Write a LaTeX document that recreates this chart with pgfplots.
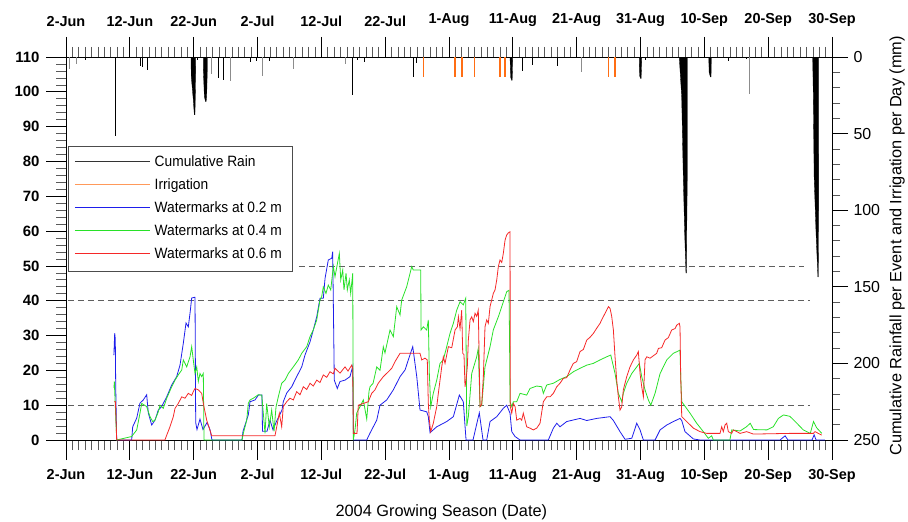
\documentclass[border=0pt]{standalone}
\usepackage{fontspec}
\setmainfont{Liberation Sans}
\newfontfamily\legfont[FakeStretch=0.92]{Liberation Sans}
\usepackage{pgfplots}
\pgfplotsset{compat=1.18}

\definecolor{wmblue}{RGB}{30,30,235}
\definecolor{wmgreen}{RGB}{40,225,40}
\definecolor{wmred}{RGB}{245,40,40}
\definecolor{irrorange}{RGB}{255,110,20}
\definecolor{dashgray}{RGB}{95,95,95}

\pgfplotsset{
  dateaxis/.style={
    scale only axis, width=766bp, height=383bp,
    xmin=0, xmax=120,
    xtick={0,10,...,120},
    xticklabels={2-Jun,12-Jun,22-Jun,2-Jul,12-Jul,22-Jul,1-Aug,11-Aug,21-Aug,31-Aug,10-Sep,20-Sep,30-Sep},
    minor x tick num=9,
    tick align=outside,
    major tick length=20bp, minor tick length=10bp,
    x tick label style={font=\fontsize{14.5}{14.5}\selectfont\bfseries},
    major tick style={black, line width=0.7bp},
    minor tick style={black!65, line width=0.7bp},
    axis line style={black, line width=0.8bp},
  },
  dashref/.style={forget plot, dashgray, line width=0.8bp, dash pattern=on 6bp off 4bp},
}

\begin{document}
\begin{tikzpicture}
% soil water tension, left axis
\begin{axis}[dateaxis,
  axis x line*=bottom, axis y line*=left,
  ymin=0, ymax=110,
  ytick={0,10,...,110}, minor y tick num=4,
  /pgf/number format/assume math mode=true,
  y tick label style={font=\fontsize{15}{15}\selectfont\bfseries, xshift=-3bp},
  x tick label style={yshift=-6bp},
  xlabel={2004 Growing Season (Date)},
  x label style={at={(axis description cs:0.49,0)}, anchor=center, yshift=-72bp, font=\fontsize{16.4}{16.4}\selectfont},
  legend style={at={(0.0026,0.7676)}, anchor=north west, draw=black!70, fill=white,
    font=\legfont\fontsize{15}{15}\selectfont, inner xsep=6bp, inner ysep=5bp,
    nodes={inner xsep=4.25bp, inner ysep=4.5bp, text height=11bp, text depth=3bp}},
  legend cell align=left,
  legend image code/.code={\draw[line width=1.3bp, #1] (0bp,1bp) -- (75bp,1bp);},
]
\addplot[dashref] coordinates {(0.3,10) (116.6,10)};
\addplot[dashref] coordinates {(0.3,40) (116.6,40)};
\addplot[dashref] coordinates {(36.5,50) (115.6,50)};

\addlegendimage{draw=black!80}
\addlegendentry{Cumulative Rain}
\addlegendimage{draw=irrorange!70}
\addlegendentry{Irrigation}
\addlegendimage{draw=wmblue}
\addlegendentry{Watermarks at 0.2 m}
\addlegendimage{draw=wmgreen}
\addlegendentry{Watermarks at 0.4 m}
\addlegendimage{draw=wmred}
\addlegendentry{Watermarks at 0.6 m}

\addplot[forget plot, wmblue, line width=0.8bp] coordinates {
(7.50,24.4) (7.63,30.7) (7.72,29) (7.79,15.2) (7.94,0) (10.29,0) (10.45,3.8) (11.08,6.3)
(11.59,10.6) (12.11,11.5) (12.64,13) (12.89,7.8) (13.43,4.3) (13.94,5.7) (14.46,8.6)
(14.99,9.6) (15.78,12.4) (16.56,15.8) (17.34,18.2) (17.86,21.5) (18.38,27.8) (18.80,33.6)
(19.16,32.5) (19.43,36.4) (19.69,40.8) (20.21,41) (20.32,5) (20.52,3) (20.99,6) (21.46,3)
(22.09,5) (22.56,3) (22.87,0) (27.57,0) (27.73,2.5) (28.56,7.2) (28.83,11) (29.61,11.5)
(30.13,12.9) (30.71,12.9) (30.78,2.5) (31.49,2.5) (31.96,5.7) (32.43,2.9) (33.06,5.7)
(33.84,8.6) (34.04,11) (34.58,13.5) (35.36,15.3) (36.14,18.2) (36.93,21) (37.44,24.4)
(38.23,28.2) (38.74,31.6) (39.28,35.4) (39.79,40.7) (40.31,40.7) (40.58,46.4) (41.09,51.7)
(41.63,52.2) (41.78,54.1) (42.03,17.2) (42.50,14.8) (42.93,16.8) (43.71,17.2) (44.49,18.2)
(44.92,21.2) (45.04,0) (47.11,0) (47.63,2) (48.68,5.7) (49.19,10) (50.24,11.5) (51.28,14.4)
(52.33,18.2) (53.11,20.1) (53.63,23) (54.32,26.8) (54.95,18.2) (55.46,8.6) (56.51,8.1)
(56.76,6.7) (57.03,2.1) (58.08,3.8) (59.64,5.3) (60.68,6.7) (61.62,12.9) (62.24,11)
(62.67,0) (63.76,0) (64.75,7.8) (65.33,0) (65.91,0) (66.43,5.3) (67.48,6.7) (68.51,9.1)
(69.04,10) (69.56,7.7) (69.83,2.4) (70.35,1) (71.13,0) (75.56,0) (76.35,3.4) (76.88,4.8)
(77.39,3.8) (78.44,5.3) (80.53,6.2) (81.58,5.6) (83.14,6.2) (85.23,6.7) (85.75,5.6)
(86.79,2.4) (87.58,0.2) (88.63,0.5) (89.41,4.8) (89.93,2.9) (90.45,0) (92.28,0) (93.07,2.9)
(94.11,4.3) (95.15,5.3) (96.19,6.2) (96.46,5.6) (96.97,2.4) (98.28,0.3) (99.33,0)
(111.86,0) (112.65,1.2) (113.10,0) (116.87,0) (117.20,1.5) (117.50,0) (118.90,0)
};

\addplot[forget plot, wmgreen, line width=0.8bp] coordinates {
(7.52,15) (7.57,16.8) (7.94,0) (10.29,1) (11.08,2.9) (11.59,7.7) (11.86,10.5) (12.64,9.6)
(13.16,6.7) (13.58,5.3) (13.94,5.7) (14.46,8.1) (14.73,10) (15.24,9.1) (15.78,12)
(16.56,15.3) (17.08,17.2) (17.59,18.7) (18.13,20.1) (18.38,23) (18.91,21) (19.43,23.9)
(19.69,26.8) (19.94,23) (20.21,19.1) (20.48,21) (20.73,16.8) (20.99,19.1) (21.26,18.2)
(21.51,19.1) (21.62,0) (27.57,0) (27.78,1.9) (28.31,5.7) (28.56,10.5) (28.83,11.5)
(29.34,12) (30.13,13) (30.66,12.9) (30.91,7.7) (31.18,1.9) (31.44,10.5) (31.85,3.8)
(32.22,8.6) (32.59,2.5) (32.90,9.5) (33.26,12.4) (33.79,16.3) (34.31,17.2) (34.83,19.1)
(35.61,21) (36.39,23) (36.93,24.9) (37.71,26.8) (38.23,29.7) (38.74,31.6) (39.28,34.5)
(39.79,40.2) (40.06,41.2) (40.31,44) (40.73,42.1) (41.09,44.5) (41.47,43.1) (41.88,49.8)
(42.14,46.9) (42.82,53.6) (43.04,46) (43.35,48.8) (43.55,43.1) (43.87,47.9) (44.07,43.1)
(44.38,46) (44.60,42.1) (44.92,47.9) (45.01,0) (45.28,3) (45.54,7.7) (46.06,9.6)
(46.58,11.5) (47.11,6) (47.47,14) (47.63,15.3) (48.11,16.3) (48.68,21) (49.19,20)
(49.71,26.8) (49.97,25) (50.76,31.6) (51.28,29.7) (51.81,38.3) (52.33,35.9) (52.59,40.2)
(53.37,44) (54.16,49.8) (54.41,48.8) (55.57,48.8) (55.62,31.6) (55.98,32.5) (56.51,31.6)
(56.76,34.5) (56.92,19.1) (57.14,9.6) (57.54,13.4) (58.08,17.2) (58.59,22) (59.11,23)
(59.64,26.8) (60.16,30.6) (60.68,33.5) (61.21,37.3) (61.73,39.7) (62.24,38.8) (62.62,40.7)
(62.78,4) (63.03,6.7) (63.56,19.1) (64.34,23.9) (64.59,26.3) (64.86,9.6) (65.12,9.9)
(65.64,21) (66.43,26.8) (66.94,31.6) (67.73,35.4) (68.26,38.3) (69.04,42.6) (69.40,43)
(69.48,30) (69.56,11) (69.83,9.6) (70.08,11) (70.61,11) (71.13,13.4) (72.17,12.9)
(72.69,14.8) (73.74,15.5) (74.52,15.3) (74.78,13.4) (75.31,15.8) (76.35,16.3) (77.39,17.4)
(78.44,18.2) (79.48,19.6) (80.53,20.6) (81.58,21.5) (82.61,22) (83.66,23) (84.71,23.9)
(85.34,24.4) (86.01,19.1) (86.53,13.4) (87.06,11) (87.31,13.4) (87.84,16.3) (88.63,19.1)
(89.41,21) (89.82,22) (90.19,18.2) (90.71,14.4) (91.23,11.5) (91.61,10) (92.28,13.4)
(93.07,19.1) (94.11,23) (95.15,24.9) (96.19,25.8) (96.30,18) (96.46,11) (97.76,7.7)
(98.81,4.8) (99.84,2.4) (100.62,0.5) (101.15,1.2) (101.41,0) (104.0,0) (104.3,2.9)
(105.6,2.6) (106.6,3.8) (107.2,4.8) (107.7,3) (109.8,2.9) (110.8,3.8) (111.6,6.2)
(112.4,7.2) (113.4,6.8) (114.5,4.8) (115.5,2.9) (116.6,1.9) (117.1,5.3) (117.6,3.5)
(118.4,1.9)
};

\addplot[forget plot, wmred, line width=0.8bp] coordinates {
(7.52,11) (7.75,11) (7.94,0) (15.50,0) (15.78,1.4) (16.29,3.8) (16.81,6.7) (17.08,9.1)
(17.59,10.5) (18.13,12.4) (18.64,12) (19.16,13.4) (19.69,12.8) (19.94,13.9) (20.21,14.8)
(20.73,14.4) (21.26,13.4) (21.51,10.5) (22.04,5.7) (22.45,3.4) (22.83,1.2) (32.74,1.2)
(33.01,3.8) (33.42,7.7) (33.79,3.8) (34.04,9.6) (34.58,11) (35.09,12) (35.61,11.5)
(36.14,13.9) (36.66,13) (37.18,15.3) (37.71,14.5) (38.23,16.3) (38.74,15.5) (39.28,17.2)
(39.79,16.5) (40.31,18.7) (40.84,18) (41.36,19.6) (41.88,19) (42.14,20.6) (42.93,19.2)
(43.71,21) (44.18,19.8) (44.76,21.5) (44.92,20.5) (45.01,1.9) (45.59,1.9) (45.79,10)
(46.58,10.5) (47.36,11) (47.89,13.4) (48.40,14.4) (48.92,16.3) (49.71,18.2) (50.50,19.6)
(51.03,20.6) (51.54,22.5) (52.33,24.9) (55.46,24.9) (55.73,23) (56.24,23.5) (56.60,23)
(56.76,10.5) (56.92,5.7) (57.14,2.4) (57.54,4.8) (58.08,9.6) (58.33,13.4) (58.86,21)
(59.11,23.9) (59.38,22) (59.90,26.8) (60.43,26.5) (60.95,31.6) (61.31,32.5) (61.47,35.4)
(61.73,32) (61.99,37.3) (62.15,24.9) (62.35,24.5) (62.51,15.3) (62.67,17.2) (62.87,21)
(63.03,28.7) (63.30,34.5) (63.56,35.4) (63.81,34) (64.08,36.4) (64.34,35.5) (64.59,37.3)
(64.86,9.6) (65.12,10.2) (65.38,18.2) (65.64,32.5) (65.91,34.5) (66.16,33.5) (66.43,38.3)
(66.94,42.1) (67.21,43.1) (67.48,46) (67.73,49.8) (67.99,51.7) (68.26,51) (68.51,53.6)
(68.78,57.4) (69.04,58.9) (69.30,59.5) (69.56,59.8) (69.61,9.6) (69.83,7.7) (70.08,10.5)
(70.35,9.6) (70.61,5.7) (71.13,6.2) (71.39,5.7) (71.64,7.7) (71.91,5.7) (72.17,3.8)
(72.69,3.4) (73.21,2.9) (73.74,3.4) (74.26,4.8) (74.78,11) (75.31,12.4) (75.83,12.4)
(76.35,13.4) (76.88,15.3) (77.39,16.3) (77.91,17.7) (78.44,17.9) (78.96,20.1) (79.48,22)
(80.00,22.5) (80.53,25.4) (81.05,26) (81.58,28.7) (82.09,29.5) (82.61,30.6) (83.14,32.1)
(83.66,33.5) (83.92,34.5) (84.45,36.4) (84.97,38.3) (85.23,37.8) (85.49,35.5) (85.75,31.6)
(86.01,23.9) (86.27,17.2) (86.53,12.4) (86.79,8.6) (87.06,9.5) (87.31,14.4) (87.84,18.2)
(88.36,21) (88.88,23) (89.41,24.4) (89.66,25.4) (89.93,19.1) (90.19,15.3) (90.45,12.4)
(90.71,23) (90.98,23.9) (91.50,23.5) (92.02,24.2) (92.54,24.9) (92.80,26.3) (93.32,26.5)
(93.84,28.7) (94.36,29.4) (94.89,31.6) (95.41,32) (95.68,33) (96.08,33.5) (96.19,32.5)
(96.30,18.2) (96.46,6.7) (97.24,5.3) (98.28,3.4) (99.33,2.4) (100.37,1.9) (102.46,1.9)
(102.72,3.8) (102.98,2.4) (103.24,4.3) (103.51,4.8) (103.76,2.4) (104.29,1.9) (104.55,2.9)
(105.08,2.4) (105.60,1.9) (106.64,2.4) (107.68,1.7) (113.42,1.9) (117.07,1.9) (117.34,2.4)
(117.86,1.9) (118.39,1.4)
};
\end{axis}

% top date axis
\begin{axis}[dateaxis,
  axis x line*=top, hide y axis, ymin=0, ymax=1,
  x tick label style={yshift=7bp},
]
\end{axis}

% rainfall and irrigation, right axis (reversed)
\begin{axis}[
  scale only axis, width=766bp, height=383bp,
  xmin=0, xmax=120, hide x axis,
  axis y line*=right, y dir=reverse,
  ymin=0, ymax=250,
  ytick={0,50,...,250}, minor y tick num=4,
  tick align=outside,
  major tick length=16bp, minor tick length=8bp,
  major tick style={black, line width=0.7bp},
  minor tick style={black!65, line width=0.7bp},
  axis line style={black, line width=0.8bp},
  /pgf/number format/assume math mode=true,
  y tick label style={font=\fontsize{16}{16}\selectfont, xshift=2bp},
  ylabel={Cumulative Rainfall per Event and Irrigation per Day (mm)},
  y label style={at={(axis description cs:1.0849,0.507)}, anchor=center, font=\fontsize{16.4}{16.4}\selectfont},
]
\addplot[ycomb, black!45, line width=0.8bp] coordinates {
(0.6,7.8) (1.7,4.6) (22.8,10.9) (25.8,15.7) (30.8,12.2) (35.7,7.6) (43.7,4.6) (80.8,10) (107.0,24)
};
\addplot[ycomb, black, line width=0.9bp] coordinates {
(3.0,1.7) (7.8,51.8) (11.7,6) (12.0,6.8) (12.7,8.7) (20.6,2) (23.9,14) (24.6,14.8) (28.9,3)
(29.9,2.4) (31.9,2.4) (44.9,25) (45.7,1.7) (46.7,3.5) (54.4,13.3) (54.9,3.9) (71.5,9.4)
(73.1,5) (77.0,5.9) (90.8,2) (103.7,2.8) (106.6,1.5)
};
\addplot[ycomb, irrorange, line width=1.6bp] coordinates {
(56.0,13) (60.9,13) (62.0,13) (64.0,13) (68.0,13) (68.8,13) (85.0,13) (86.0,13)
};
\addplot[fill=black, draw=black, line width=0.3bp] coordinates {
(19.58,0) (19.62,12.6) (19.94,27.9) (20.1,37.6) (20.2,37.6) (20.25,27.9) (20.3,12.6) (20.32,0)} -- cycle;
\addplot[fill=black, draw=black, line width=0.3bp] coordinates {
(21.51,0) (21.51,7.2) (21.67,25.6) (21.84,29) (21.95,29) (22.04,25.6) (22.14,7.5) (22.14,0)} -- cycle;
\addplot[fill=black, draw=black, line width=0.3bp] coordinates {
(69.56,0) (69.65,13) (69.8,15.2) (69.9,15.2) (69.98,0)} -- cycle;
\addplot[fill=black, draw=black, line width=0.3bp] coordinates {
(89.8,0) (89.85,12) (90.0,14) (90.1,14) (90.2,0)} -- cycle;
\addplot[fill=black, draw=black, line width=0.3bp] coordinates {
(96.07,0) (96.45,26) (96.7,78) (96.92,115) (97.12,141) (97.2,141) (97.24,115) (97.33,78) (97.33,0)} -- cycle;
\addplot[fill=black, draw=black, line width=0.3bp] coordinates {
(100.69,0) (100.75,10) (100.95,13) (101.05,13) (101.1,0)} -- cycle;
\addplot[fill=black, draw=black, line width=0.3bp] coordinates {
(116.97,0) (117.07,25) (117.2,78) (117.5,115) (117.79,143.6) (117.85,143.6) (117.9,100) (117.92,0)} -- cycle;
\end{axis}

\pgfresetboundingbox
\path[use as bounding box] (-66bp,-82bp) rectangle (842bp,440bp);
\end{tikzpicture}
\end{document}
